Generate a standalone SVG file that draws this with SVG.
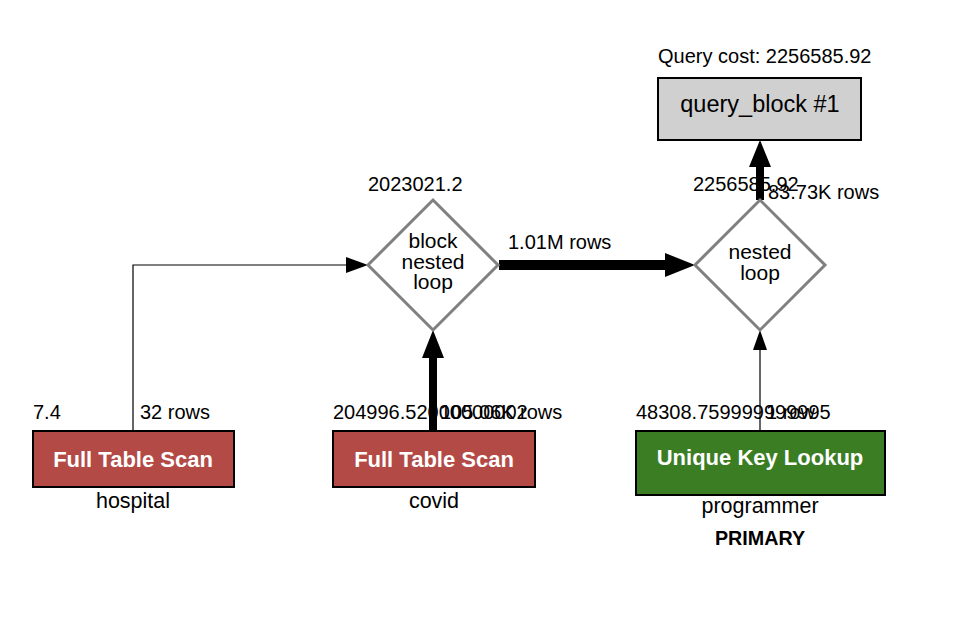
<svg xmlns="http://www.w3.org/2000/svg" width="960" height="640" viewBox="0 0 960 640">
<defs>
<style>
text{font-family:"Liberation Sans",Arial,Helvetica,sans-serif;fill:#000}
.lbl{font-size:20px}
.sub{font-size:21.5px}
.dt{font-size:21px}
.mid{text-anchor:middle}
.op{font-size:22px;font-weight:bold;fill:#fff;text-anchor:middle}
.scan{fill:#b34a46;stroke:#000;stroke-width:2}
.uk{fill:#3a7d23;stroke:#000;stroke-width:2}
.dia{fill:#fff;stroke:#808080;stroke-width:3}
.thin{fill:none;stroke:#000;stroke-width:1.2}
.thick{fill:none;stroke:#000;stroke-width:8}
.thicker{fill:none;stroke:#000;stroke-width:10}
</style>
</defs>
<rect width="960" height="640" fill="#fff"/>
<g id="connectors">
<path class="thin" d="M133 431V265H350"/>
<polygon points="368,265 346,257 346,273" fill="#000"/>
<path class="thicker" d="M499 265H668"/>
<polygon points="695,265 665,253 665,277" fill="#000"/>
<path class="thick" d="M433 431V356"/>
<polygon points="433,330 422,358 444,358" fill="#000"/>
<path class="thin" d="M760 431V348"/>
<polygon points="760,330 753,350 767,350" fill="#000"/>
<path class="thick" d="M760 200V165"/>
<polygon points="760,140 749,167 771,167" fill="#000"/>
<text class="lbl" x="508" y="249">1.01M rows</text>
<text class="lbl" x="140" y="419">32 rows</text>
<text class="lbl" x="440" y="419">105.06K rows</text>
<text class="lbl" x="766" y="419">1 row</text>
<text class="lbl" x="768" y="199">83.73K rows</text>
</g>
<g id="query_block">
<text class="lbl" x="658" y="63">Query cost: 2256585.92</text>
<rect x="658" y="78" width="203" height="62" fill="#d0d0d0" stroke="#000" stroke-width="2"/>
<text class="mid" x="760" y="112" font-size="23.5">query_block #1</text>
</g>
<g id="nested_loop">
<text class="lbl" x="693" y="191">2256585.92</text>
<polygon class="dia" points="760,200 825,265 760,330 695,265"/>
<text class="dt mid" x="760" y="259">nested</text>
<text class="dt mid" x="760" y="280">loop</text>
</g>
<g id="block_nested_loop">
<text class="lbl" x="368" y="191">2023021.2</text>
<polygon class="dia" points="433,200 498,265 433,330 368,265"/>
<text class="dt mid" x="433" y="248">block</text>
<text class="dt mid" x="433" y="269">nested</text>
<text class="dt mid" x="433" y="289">loop</text>
</g>
<g id="hospital">
<text class="lbl" x="33" y="419">7.4</text>
<rect class="scan" x="33" y="431" width="201" height="56"/>
<text class="op" x="133" y="467">Full Table Scan</text>
<text class="sub mid" x="133" y="508">hospital</text>
</g>
<g id="covid">
<text class="lbl" x="333" y="419">204996.52000000002</text>
<rect class="scan" x="333" y="431" width="202" height="56"/>
<text class="op" x="434" y="467">Full Table Scan</text>
<text class="sub mid" x="434" y="508">covid</text>
</g>
<g id="programmer">
<text class="lbl" x="636" y="419">48308.759999999995</text>
<rect class="uk" x="636" y="431" width="249" height="64"/>
<text class="op" x="760" y="465">Unique Key Lookup</text>
<text class="sub mid" x="760" y="513">programmer</text>
<text class="mid" x="760" y="545" font-size="19.7" font-weight="bold">PRIMARY</text>
</g>
</svg>
